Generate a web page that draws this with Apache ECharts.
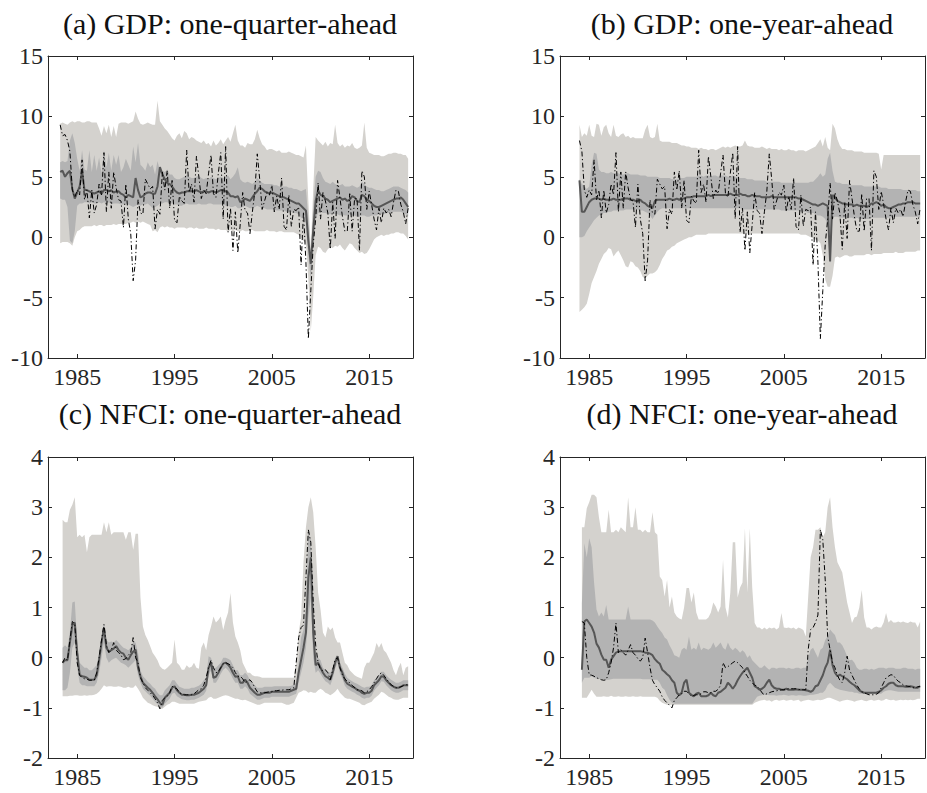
<!DOCTYPE html>
<html><head><meta charset="utf-8">
<script src="https://cdn.jsdelivr.net/npm/echarts@6/dist/echarts.min.js"></script>
<style>html,body{margin:0;padding:0;background:#fff}#c{width:927px;height:793px}</style>
</head><body><div id="c"></div>
<script>
// ---------- tick labels ----------
const yearTicks = [1985, 1995, 2005, 2015];
const titles = ['(a) GDP: one-quarter-ahead', '(b) GDP: one-year-ahead', '(c) NFCI: one-quarter-ahead', '(d) NFCI: one-year-ahead'];

// ---------- GDP actual (quarterly, 1983Q2 .. 2019Q1) ----------
const gdpStart = 1983.25;
const gdpActual = [
 9.3, 8.4, 8.5,
 8.0, 7.1, 3.9, 3.3,
 3.9, 3.5, 6.4, 3.1,
 3.9, 1.6, 3.9, 2.0,
 2.7, 4.4, 3.5, 7.0,
 2.1, 5.4, 2.4, 5.4,
 4.1, 3.1, 3.0, 0.8,
 4.4, 1.5, 0.3, -3.6,
 -1.9, 3.1, 2.0, 1.9,
 4.8, 4.4, 4.0, 4.2,
 0.7, 2.3, 1.9, 5.4,
 3.9, 5.5, 2.4, 4.7,
 1.4, 1.2, 3.4, 3.0,
 2.8, 7.2, 3.7, 4.4,
 2.9, 6.7, 5.0, 3.2,
 3.9, 3.6, 5.3, 6.8,
 3.6, 3.3, 5.3, 7.0,
 1.5, 7.5, 0.4, 2.4,
 -1.1, 2.1, -1.3, 1.1,
 3.7, 2.2, 2.0, 0.3,
 2.1, 3.8, 6.9, 4.8,
 2.3, 3.0, 3.7, 3.5,
 4.3, 2.1, 3.4, 2.3,
 4.9, 0.9, 0.6, 3.5,
 0.9, 2.3, 2.2, 2.5,
 -2.3, 2.1, -2.1, -8.4,
 -4.4, -0.6, 1.5, 4.5,
 1.5, 3.7, 3.0, 2.0,
 -1.0, 2.9, -0.1, 4.7,
 3.2, 1.7, 0.5, 0.5,
 3.6, 0.5, 3.2, 3.2,
 -1.1, 5.5, 5.0, 2.3,
 3.8, 2.7, 1.5, 0.6,
 2.4, 1.2, 2.4, 2.0,
 2.3, 1.7, 2.9, 3.9,
 3.8, 2.7, 2.1, 1.1,
 2.4
];

// ---------- (a) GDP one-quarter-ahead, 1983Q2 .. 2019Q1 ----------
const aStart = 1983.25;
const aHi90 = [
 9.4, 9.5, 9.4,
 9.3, 9.5, 9.6, 9.5,
 9.6, 9.6, 9.5, 9.5,
 9.6, 9.6, 9.5, 9.5,
 9.5, 9.0, 8.4, 9.2,
 8.6, 9.3, 8.3, 9.2,
 8.3, 9.4, 9.5, 9.5,
 9.5, 9.4, 9.5, 9.6,
 10.4, 9.8, 9.4, 9.3,
 9.4, 9.5, 9.4, 9.3,
 9.3, 11.3, 9.6, 9.3,
 9.0, 8.8, 8.5, 8.2,
 8.0, 8.4, 8.6, 8.2,
 8.8, 8.6, 8.1, 8.3,
 8.2, 8.0, 7.9, 7.8,
 8.0, 7.7, 7.8, 7.5,
 8.0, 7.6, 7.8, 8.1,
 7.7, 8.0, 8.3, 7.9,
 8.6, 9.3, 8.0, 7.6,
 7.6, 7.4, 7.8, 7.7,
 7.7, 8.1, 8.9, 8.2,
 7.7, 7.5, 7.2, 7.3,
 7.3, 7.2, 7.1, 7.2,
 7.0, 7.0, 7.0, 7.1,
 7.0, 6.9, 6.8, 6.8,
 6.7, 6.6, 7.6, 3.0,
 -1.0, 4.0, 8.3, 8.0,
 7.8, 7.6, 7.9, 7.5,
 7.8, 7.7, 9.3, 7.8,
 7.5, 7.7, 7.4, 7.6,
 7.5, 7.8, 7.4, 7.3,
 7.4, 7.6, 9.5, 7.4,
 7.0, 6.9, 6.8, 6.8,
 6.8, 6.7, 6.7, 6.8,
 6.9, 6.9, 7.0, 7.0,
 6.9, 6.9, 6.8, 6.8,
 6.5
];
const aHi68 = [
 6.2, 6.3, 6.2,
 6.3, 8.0, 8.6, 7.8,
 6.5, 5.5, 7.2, 5.6,
 5.5, 7.2, 5.4, 6.8,
 5.5, 6.6, 5.3, 7.2,
 5.8, 7.0, 5.5, 6.8,
 6.0, 6.8, 5.4, 5.8,
 6.5, 6.0, 5.5, 7.5,
 6.2, 7.8, 6.0, 5.8,
 5.5, 6.2, 5.8, 6.0,
 5.2, 6.3, 5.5, 5.5,
 5.4, 5.6, 5.2, 5.2,
 4.9, 4.8, 4.8, 4.9,
 5.0, 5.2, 5.0, 4.9,
 4.9, 5.0, 5.1, 4.9,
 4.8, 4.9, 4.8, 5.0,
 4.9, 4.8, 4.9, 5.0,
 4.9, 5.0, 5.1, 4.8,
 5.0, 5.3, 5.8, 4.8,
 4.6, 4.5, 4.6, 4.5,
 4.4, 4.6, 4.9, 4.7,
 4.5, 4.4, 4.4, 4.4,
 4.4, 4.3, 4.3, 4.2,
 4.2, 4.2, 4.2, 4.1,
 4.1, 4.0, 4.0, 3.9,
 3.8, 3.9, 4.0, 1.5,
 -1.5, 2.5, 5.0, 5.5,
 5.4, 4.9, 4.6, 4.5,
 4.4, 4.6, 4.4, 4.3,
 4.3, 4.4, 4.2, 4.2,
 4.2, 4.3, 4.2, 4.1,
 4.2, 4.6, 4.4, 4.2,
 4.1, 4.1, 4.0, 3.9,
 3.9, 3.8, 3.8, 3.9,
 4.0, 4.1, 4.2, 4.2,
 4.2, 4.1, 4.0, 3.9,
 3.7
];
const aMed = [
 5.4, 5.5, 5.0,
 5.3, 5.5, 4.0, 3.2,
 3.7, 4.2, 5.5, 3.9,
 3.9, 3.8, 3.7, 3.6,
 3.7, 3.8, 3.6, 3.9,
 3.9, 3.8, 3.9, 3.7,
 3.8, 3.8, 3.6, 3.5,
 3.3, 3.5, 3.4, 3.3,
 4.9, 3.9, 3.3, 3.4,
 3.6, 3.7, 3.7, 3.6,
 3.6, 4.2, 5.8, 5.2,
 4.8, 4.5, 4.4, 4.2,
 3.9, 3.7, 3.6, 3.7,
 3.7, 3.8, 3.8, 3.8,
 3.8, 3.9, 3.8, 3.7,
 3.8, 3.8, 3.7, 3.8,
 3.8, 3.7, 3.8, 3.9,
 3.9, 3.8, 3.7, 3.4,
 3.4, 3.3, 3.4, 2.9,
 3.0, 3.2, 3.1, 3.0,
 3.3, 3.6, 3.8, 4.1,
 4.0, 3.8, 3.7, 3.6,
 3.7, 3.6, 3.5, 3.4,
 3.3, 3.3, 3.2, 3.1,
 3.0, 2.9, 2.8, 2.8,
 2.6, 2.4, 2.2, -0.3,
 -2.2, 0.6, 3.0, 3.9,
 3.5, 3.4, 3.2, 3.1,
 2.9, 3.0, 3.1, 3.2,
 3.3, 3.1, 3.2, 3.0,
 3.1, 3.4, 3.3, 3.0,
 2.9, 3.5, 3.4, 3.1,
 3.0, 2.8, 2.6, 2.5,
 2.5, 2.6, 2.7, 2.8,
 2.9, 3.0, 3.1, 3.2,
 3.2, 3.3, 3.1, 2.8,
 2.5
];
const aLo68 = [
 3.2, 3.1, 3.1,
 2.5, -0.3, -0.5, 0.5,
 2.6, 2.8, 2.8, 2.9,
 2.9, 2.8, 2.9, 2.8,
 2.8, 2.9, 2.8, 2.9,
 2.8, 2.9, 2.7, 2.8,
 2.8, 2.8, 2.7, 2.7,
 2.8, 2.7, 2.6, 2.5,
 2.6, 2.7, 2.6, 2.7,
 2.7, 2.8, 2.6, 2.4,
 2.5, 2.6, 2.8, 2.8,
 2.9, 2.9, 2.8, 2.8,
 2.7, 2.7, 2.6, 2.6,
 2.7, 2.8, 2.7, 2.7,
 2.7, 2.7, 2.8, 2.7,
 2.7, 2.7, 2.8, 2.8,
 2.7, 2.7, 2.7, 2.7,
 2.7, 2.6, 2.6, 2.5,
 2.5, 2.6, 2.4, 2.4,
 2.5, 2.6, 2.5, 2.4,
 2.4, 2.5, 2.6, 2.5,
 2.4, 2.4, 2.3, 2.3,
 2.3, 2.3, 2.2, 2.2,
 2.2, 2.2, 2.1, 2.1,
 2.1, 2.0, 2.0, 1.9,
 1.6, 1.5, 1.2, -1.5,
 -3.5, -1.0, 1.5, 2.0,
 2.1, 2.0, 2.0, 1.9,
 1.9, 2.0, 1.9, 1.9,
 1.8, 1.9, 1.8, 1.8,
 1.9, 1.8, 1.8, 1.7,
 1.7, 1.8, 1.8, 1.7,
 1.7, 1.8, 1.8, 1.8,
 1.9, 1.9, 1.9, 2.0,
 2.0, 2.0, 2.1, 2.1,
 2.1, 2.1, 2.0, 1.9,
 1.8
];
const aLo90 = [
 -0.5, -0.4, -0.4,
 -0.4, -0.5, -0.7, 0.0,
 0.5, 0.6, 0.8, 0.9,
 0.9, 0.9, 0.9, 1.0,
 0.9, 1.0, 1.0, 0.9,
 1.0, 1.0, 1.0, 1.1,
 1.0, 1.1, 1.1, 1.1,
 1.1, 1.2, 1.2, 1.3,
 1.2, 1.3, 1.2, 1.3,
 1.2, 1.1, 1.0, 0.5,
 0.6, 0.4, 0.8, 0.9,
 0.8, 0.9, 0.8, 0.8,
 0.7, 0.8, 0.8, 0.8,
 0.8, 0.7, 0.8, 0.8,
 0.7, 0.8, 0.7, 0.7,
 0.7, 0.8, 0.7, 0.7,
 0.7, 0.6, 0.7, 0.6,
 0.6, 0.6, 0.5, 0.6,
 0.5, 0.6, 0.5, 0.5,
 0.6, 0.5, 0.5, 0.6,
 0.6, 0.5, 0.5, 0.5,
 0.5, 0.5, 0.6, 0.5,
 0.5, 0.5, 0.4, 0.5,
 0.5, 0.4, 0.4, 0.4,
 0.4, 0.4, 0.3, 0.2,
 0.0, -0.3, -0.5, -3.5,
 -7.8, -4.9, -1.5, -0.8,
 -0.9, -1.2, -1.3, -1.0,
 -0.8, -0.9, -0.7, -0.8,
 -0.6, -0.9, -1.1, -0.8,
 -0.5, -0.6, -0.9, -1.1,
 -1.3, -1.2, -1.4, -1.3,
 -1.0, -0.6, -0.2, 0.0,
 0.1, 0.2, 0.1, 0.2,
 0.2, 0.3, 0.3, 0.4,
 0.4, 0.3, 0.3, 0.1,
 -0.2
];

// ---------- (b) GDP one-year-ahead, 1984Q1 .. 2019Q1 ----------
const bStart = 1984.0;
const bHi90 = [
 9.3, 8.3, 8.6, 8.4,
 9.3, 8.4, 8.3, 9.4,
 9.3, 8.4, 9.1, 9.3,
 8.6, 8.3, 9.3, 8.4,
 8.3, 8.5, 8.6, 8.3,
 8.4, 8.2, 8.3, 8.2,
 8.2, 8.2, 8.2, 8.9,
 9.3, 8.3, 8.2, 8.3,
 9.4, 8.0, 7.9, 7.9,
 7.9, 7.9, 7.8, 7.8,
 7.8, 7.7, 7.6, 7.6,
 7.5, 7.5, 7.4, 7.4,
 7.4, 7.3, 7.4, 7.3,
 7.3, 7.2, 7.3, 7.3,
 7.2, 7.3, 7.4, 7.5,
 7.4, 7.5, 7.4, 7.5,
 7.6, 7.5, 7.5, 7.6,
 8.0, 7.6, 7.5, 7.5,
 7.4, 7.4, 7.4, 7.5,
 7.4, 7.3, 7.4, 7.3,
 7.3, 7.3, 7.2, 7.3,
 7.2, 7.2, 7.3, 7.2,
 7.2, 7.1, 7.2, 7.2,
 7.2, 7.1, 7.2, 7.3,
 7.4, 7.5, 7.8, 8.1,
 7.5, 8.3, 7.4, 7.2,
 9.4, 9.0, 8.1, 7.6,
 7.3, 7.3, 7.2, 7.2,
 7.2, 7.1, 7.1, 7.1,
 7.1, 7.0, 7.0, 7.0,
 7.0, 7.0, 7.0, 6.9,
 5.6, 6.8, 6.8, 6.8,
 6.8, 6.8, 6.8, 6.8,
 6.8, 6.8, 6.8, 6.8,
 6.8, 6.8, 6.8, 6.8,
 6.8
];
const bHi68 = [
 4.8, 4.4, 4.2, 4.0,
 4.2, 6.0, 7.0, 6.9,
 5.6, 5.4, 5.4, 5.3,
 5.3, 5.4, 5.3, 5.3,
 5.3, 5.2, 5.2, 5.3,
 5.3, 5.2, 5.2, 5.2,
 5.2, 5.1, 5.1, 5.1,
 5.0, 5.0, 5.0, 5.0,
 5.0, 4.9, 4.9, 4.9,
 4.9, 4.9, 4.8, 4.8,
 4.8, 4.9, 4.9, 4.9,
 5.0, 5.0, 5.0, 5.0,
 5.0, 5.1, 5.1, 5.0,
 5.1, 5.1, 5.0, 5.1,
 5.1, 5.0, 5.1, 5.1,
 5.1, 5.0, 5.0, 5.1,
 5.0, 5.0, 4.9, 4.9,
 4.9, 4.8, 4.8, 4.8,
 4.7, 4.7, 4.7, 4.7,
 4.7, 4.6, 4.6, 4.6,
 4.6, 4.6, 4.6, 4.5,
 4.5, 4.5, 4.5, 4.5,
 4.5, 4.5, 4.5, 4.5,
 4.5, 4.5, 4.5, 4.6,
 4.6, 4.8, 5.0, 5.3,
 5.0, 5.2, 6.5, 7.0,
 5.5, 4.6, 4.5, 4.5,
 4.4, 4.4, 4.4, 4.3,
 4.3, 4.3, 4.3, 4.3,
 4.3, 4.2, 4.2, 4.2,
 4.2, 4.2, 4.2, 4.2,
 4.1, 4.1, 4.1, 4.0,
 4.0, 4.0, 4.0, 4.0,
 4.0, 3.9, 3.9, 3.9,
 3.9, 3.9, 3.9, 3.8,
 3.8
];
const bMed = [
 4.7, 2.1, 2.1, 2.5,
 2.9, 3.1, 3.2, 3.2,
 3.2, 3.1, 3.2, 3.1,
 3.1, 3.1, 3.2, 3.1,
 3.1, 3.1, 3.2, 3.2,
 3.2, 3.1, 3.1, 3.0,
 3.0, 3.1, 2.9, 2.8,
 2.6, 2.5, 2.4, 3.0,
 3.1, 3.1, 3.1, 3.1,
 3.1, 3.2, 3.1, 3.1,
 3.2, 3.1, 3.2, 3.2,
 3.3, 3.3, 3.3, 3.4,
 3.4, 3.4, 3.4, 3.4,
 3.4, 3.5, 3.4, 3.5,
 3.5, 3.5, 3.5, 3.5,
 3.5, 3.5, 3.6, 3.5,
 3.5, 3.5, 3.6, 3.5,
 3.5, 3.4, 3.4, 3.5,
 3.4, 3.4, 3.4, 3.3,
 3.3, 3.3, 3.3, 3.4,
 3.3, 3.3, 3.3, 3.3,
 3.3, 3.3, 3.3, 3.3,
 3.3, 3.3, 3.2, 3.2,
 3.1, 3.0, 2.9, 2.8,
 2.7, 2.7, 2.6, 2.7,
 2.8, 2.7, 2.6, -2.0,
 3.5, 3.3, 3.0, 2.9,
 2.8, 2.8, 2.7, 2.7,
 2.7, 2.6, 2.7, 2.6,
 2.6, 2.6, 2.5, 2.6,
 2.8, 2.8, 2.9, 2.8,
 2.6, 2.7, 2.5, 2.4,
 2.4, 2.5, 2.6, 2.7,
 2.7, 2.8, 2.8, 2.9,
 2.9, 2.9, 2.8, 2.8,
 2.8
];
const bLo68 = [
 0.0, 0.0, 0.1, 0.5,
 0.8, 1.1, 1.4, 1.6,
 1.8, 1.9, 2.0, 2.0,
 2.1, 2.1, 2.2, 2.2,
 2.2, 2.2, 2.2, 2.3,
 2.3, 2.3, 2.3, 2.3,
 2.3, 2.2, 2.2, 2.1,
 2.0, 1.8, 1.5, 1.8,
 2.1, 2.3, 2.4, 2.4,
 2.4, 2.4, 2.4, 2.4,
 2.4, 2.4, 2.4, 2.4,
 2.4, 2.4, 2.4, 2.4,
 2.4, 2.4, 2.4, 2.4,
 2.4, 2.4, 2.4, 2.4,
 2.4, 2.4, 2.4, 2.4,
 2.4, 2.4, 2.4, 2.4,
 2.4, 2.4, 2.4, 2.3,
 2.3, 2.3, 2.3, 2.3,
 2.3, 2.3, 2.3, 2.3,
 2.3, 2.3, 2.3, 2.3,
 2.3, 2.3, 2.3, 2.2,
 2.2, 2.2, 2.2, 2.2,
 2.2, 2.2, 2.2, 2.1,
 2.1, 2.1, 2.0, 2.0,
 2.0, 1.9, 1.8, 1.8,
 1.7, 1.5, 1.0, -2.2,
 1.6, 1.7, 1.7, 1.6,
 1.6, 1.6, 1.6, 1.6,
 1.6, 1.5, 1.6, 1.5,
 1.5, 1.5, 1.5, 1.5,
 1.6, 1.6, 1.6, 1.6,
 1.6, 1.6, 1.6, 1.6,
 1.6, 1.7, 1.7, 1.7,
 1.7, 1.7, 1.7, 1.7,
 1.7, 1.7, 1.7, 1.7,
 1.7
];
const bLo90 = [
 -6.2, -6.0, -5.8, -5.5,
 -4.7, -3.8, -3.3, -2.8,
 -2.2, -1.8, -1.4, -1.2,
 -0.9, -1.0, -1.6, -1.3,
 -1.1, -1.5, -1.9, -2.4,
 -2.5, -2.0, -2.1, -2.4,
 -2.5, -2.8, -3.3, -3.4,
 -3.2, -3.0, -3.0, -2.9,
 -2.7, -2.3, -1.8, -1.5,
 -1.1, -1.0, -0.8, -0.7,
 -0.5, -0.4, -0.3, -0.2,
 -0.1, 0.0, 0.0, 0.1,
 0.2, 0.2, 0.2, 0.2,
 0.2, 0.3, 0.3, 0.3,
 0.3, 0.3, 0.3, 0.3,
 0.3, 0.3, 0.3, 0.3,
 0.3, 0.3, 0.3, 0.3,
 0.3, 0.3, 0.2, 0.3,
 0.3, 0.3, 0.3, 0.3,
 0.3, 0.3, 0.3, 0.3,
 0.3, 0.3, 0.3, 0.3,
 0.3, 0.3, 0.3, 0.3,
 0.3, 0.3, 0.3, 0.2,
 0.2, 0.2, 0.1, 0.0,
 -0.1, -0.2, -0.3, -0.5,
 -1.5, -3.5, -4.1, -4.1,
 -3.2, -1.7, -1.6, -1.7,
 -1.6, -1.5, -1.5, -1.6,
 -1.6, -1.5, -1.5, -1.5,
 -1.5, -1.5, -1.4, -1.4,
 -1.5, -1.4, -1.4, -1.4,
 -1.4, -1.3, -1.3, -1.3,
 -1.3, -1.3, -1.2, -1.3,
 -1.3, -1.3, -1.2, -1.2,
 -1.2, -1.2, -1.2, -1.1,
 -1.1
];

// ---------- (c) NFCI one-quarter-ahead, 1983Q3 .. 2019Q1 ----------
const cStart = 1983.5;
const cAct = [
 -0.1, 0.0,
 -0.05, 0.35, 0.72, 0.68,
 -0.1, -0.35, -0.4, -0.42,
 -0.43, -0.45, -0.45, -0.45,
 -0.3, 0.0, 0.35, 0.66,
 0.25, 0.1, 0.15, 0.3,
 0.15, 0.1, 0.05, -0.04,
 -0.02, 0.05, 0.1, 0.4,
 0.0, -0.1, -0.4, -0.5,
 -0.6, -0.65, -0.7, -0.75,
 -0.82, -0.9, -1.02, -0.85,
 -0.8, -0.77, -0.7, -0.57,
 -0.6, -0.62, -0.7, -0.72,
 -0.74, -0.74, -0.74, -0.74,
 -0.72, -0.68, -0.64, -0.62,
 -0.55, -0.4, -0.2, -0.05,
 -0.2, -0.3, -0.28, -0.2,
 -0.12, -0.1, -0.12, -0.15,
 -0.2, -0.3, -0.37, -0.37,
 -0.42, -0.5, -0.47, -0.44,
 -0.5, -0.6, -0.68, -0.7,
 -0.7, -0.7, -0.69, -0.68,
 -0.68, -0.66, -0.66, -0.65,
 -0.65, -0.64, -0.64, -0.64,
 -0.62, -0.6, -0.1, 0.4,
 0.6, 0.65, 1.6, 2.55,
 2.3, 1.1, 0.25, -0.1,
 -0.24, -0.26, -0.24, -0.3,
 -0.44, -0.24, -0.04, 0.0,
 -0.2, -0.35, -0.42, -0.48,
 -0.5, -0.55, -0.6, -0.64,
 -0.64, -0.66, -0.7, -0.68,
 -0.64, -0.58, -0.5, -0.42,
 -0.34, -0.3, -0.35, -0.42,
 -0.48, -0.54, -0.57, -0.6,
 -0.6, -0.58, -0.56, -0.54,
 -0.54
];
const cHi90 = [
 2.75, 2.7,
 2.7, 2.95, 3.05, 3.2,
 2.4, 2.45, 2.4, 2.45,
 2.1, 2.4, 2.45, 2.45,
 2.45, 2.45, 2.45, 2.7,
 2.5, 2.7, 2.45, 2.5,
 2.5, 2.5, 2.5, 2.5,
 2.35, 2.5, 2.5, 2.15,
 2.47, 2.47, 1.2, 0.62,
 0.45, 0.35, 0.23, 0.1,
 0.03, -0.05, -0.17, -0.22,
 -0.24, -0.2, -0.15, -0.1,
 0.36, -0.1, -0.15, -0.24,
 -0.24, -0.15, -0.2, -0.18,
 -0.1, -0.2, -0.22, 0.2,
 0.3, 0.15, 0.45, 0.62,
 0.82, 0.7, 0.75, 0.82,
 0.55, 0.75, 0.9, 1.29,
 0.7, 0.42, 0.3, 0.15,
 -0.1, -0.2, -0.3, -0.3,
 -0.35, -0.37, -0.37, -0.38,
 -0.4, -0.4, -0.4, -0.4,
 -0.4, -0.4, -0.4, -0.4,
 -0.4, -0.4, -0.4, -0.4,
 -0.4, -0.4, -0.1, 0.5,
 0.8, 1.9, 2.6, 3.0,
 3.2, 2.9, 2.2, 1.3,
 0.96, 0.5, 0.4, 0.62,
 0.55, 0.6, 0.4, 0.3,
 0.3, 0.1, -0.1, -0.15,
 -0.25, -0.3, -0.35, -0.38,
 -0.4, -0.42, -0.2, -0.1,
 -0.1, 0.0, 0.1, 0.29,
 0.2, 0.29, 0.15, 0.1,
 0.0, -0.1, -0.25, -0.35,
 -0.2, -0.1, -0.35, -0.2,
 -0.17
];
const cHi68 = [
 0.2, 0.25,
 0.2, 0.5, 1.1, 1.12,
 0.3, -0.1, -0.15, -0.2,
 -0.2, -0.25, -0.25, -0.2,
 -0.15, 0.1, 0.4, 0.69,
 0.35, 0.3, 0.32, 0.3,
 0.35, 0.3, 0.25, 0.2,
 0.18, 0.15, 0.2, 0.3,
 0.3, 0.1, -0.25, -0.37,
 -0.42, -0.48, -0.52, -0.58,
 -0.62, -0.7, -0.75, -0.75,
 -0.65, -0.6, -0.55, -0.45,
 -0.45, -0.52, -0.58, -0.6,
 -0.62, -0.62, -0.62, -0.6,
 -0.6, -0.58, -0.56, -0.52,
 -0.45, -0.4, 0.03, 0.0,
 -0.2, -0.2, -0.15, -0.1,
 0.0, 0.0, -0.02, -0.05,
 -0.15, -0.25, -0.25, -0.35,
 -0.35, -0.3, -0.35, -0.45,
 -0.5, -0.55, -0.6, -0.6,
 -0.6, -0.58, -0.58, -0.58,
 -0.58, -0.57, -0.57, -0.57,
 -0.57, -0.57, -0.57, -0.57,
 -0.56, -0.54, -0.5, -0.1,
 0.4, 0.55, 1.0, 2.5,
 2.35, 1.3, 0.1, 0.0,
 -0.05, -0.2, -0.25, -0.28,
 -0.3, -0.2, 0.0, 0.03,
 -0.1, -0.2, -0.32, -0.4,
 -0.44, -0.47, -0.5, -0.52,
 -0.55, -0.58, -0.6, -0.58,
 -0.58, -0.55, -0.45, -0.4,
 -0.35, -0.28, -0.28, -0.35,
 -0.4, -0.44, -0.47, -0.5,
 -0.5, -0.48, -0.45, -0.45,
 -0.45
];
const cMed = [
 -0.1, -0.05,
 -0.05, 0.3, 0.65, 0.7,
 0.1, -0.34, -0.37, -0.38,
 -0.4, -0.44, -0.44, -0.44,
 -0.35, -0.05, 0.3, 0.6,
 0.2, 0.12, 0.15, 0.18,
 0.23, 0.15, 0.1, 0.08,
 0.0, -0.04, 0.05, 0.12,
 0.16, -0.2, -0.37, -0.5,
 -0.55, -0.6, -0.64, -0.7,
 -0.77, -0.83, -0.9, -0.94,
 -0.8, -0.75, -0.7, -0.6,
 -0.57, -0.65, -0.7, -0.74,
 -0.74, -0.75, -0.75, -0.74,
 -0.74, -0.72, -0.7, -0.66,
 -0.62, -0.55, -0.2, -0.1,
 -0.4, -0.38, -0.3, -0.2,
 -0.12, -0.1, -0.14, -0.2,
 -0.3, -0.38, -0.37, -0.5,
 -0.5, -0.44, -0.5, -0.6,
 -0.65, -0.7, -0.74, -0.74,
 -0.72, -0.7, -0.7, -0.7,
 -0.68, -0.68, -0.68, -0.68,
 -0.68, -0.68, -0.68, -0.68,
 -0.66, -0.64, -0.62, -0.3,
 -0.05, 0.2, 0.5, 1.6,
 2.0, 0.5, -0.15, -0.1,
 -0.2, -0.3, -0.37, -0.4,
 -0.44, -0.3, -0.1, 0.03,
 -0.2, -0.3, -0.45, -0.52,
 -0.55, -0.58, -0.6, -0.64,
 -0.66, -0.7, -0.72, -0.7,
 -0.7, -0.66, -0.55, -0.5,
 -0.45, -0.37, -0.38, -0.45,
 -0.5, -0.55, -0.58, -0.6,
 -0.6, -0.58, -0.55, -0.55,
 -0.55
];
const cLo68 = [
 -0.65, -0.65,
 -0.6, -0.3, 0.2, 0.3,
 -0.2, -0.5, -0.55, -0.55,
 -0.57, -0.57, -0.57, -0.57,
 -0.5, -0.3, 0.0, 0.3,
 0.0, -0.1, -0.05, -0.02,
 0.0, -0.05, -0.1, -0.12,
 -0.15, -0.2, -0.15, -0.1,
 -0.05, -0.35, -0.5, -0.62,
 -0.67, -0.72, -0.76, -0.82,
 -0.88, -0.93, -0.98, -1.0,
 -0.92, -0.87, -0.82, -0.72,
 -0.7, -0.77, -0.8, -0.83,
 -0.84, -0.85, -0.85, -0.84,
 -0.84, -0.82, -0.8, -0.77,
 -0.74, -0.66, -0.35, -0.25,
 -0.5, -0.5, -0.42, -0.32,
 -0.24, -0.2, -0.25, -0.32,
 -0.42, -0.5, -0.5, -0.62,
 -0.62, -0.57, -0.62, -0.72,
 -0.76, -0.8, -0.84, -0.84,
 -0.82, -0.8, -0.8, -0.8,
 -0.78, -0.78, -0.78, -0.78,
 -0.78, -0.78, -0.78, -0.78,
 -0.76, -0.74, -0.72, -0.5,
 -0.3, -0.1, 0.2, 0.8,
 1.2, 0.0, -0.3, -0.25,
 -0.32, -0.4, -0.47, -0.5,
 -0.55, -0.42, -0.22, -0.1,
 -0.32, -0.42, -0.56, -0.62,
 -0.65, -0.68, -0.7, -0.74,
 -0.76, -0.8, -0.82, -0.8,
 -0.8, -0.76, -0.66, -0.6,
 -0.55, -0.47, -0.48, -0.55,
 -0.6, -0.65, -0.68, -0.7,
 -0.7, -0.68, -0.65, -0.65,
 -0.65
];
const cLo90 = [
 -0.77, -0.77,
 -0.77, -0.76, -0.76, -0.75,
 -0.75, -0.76, -0.76, -0.75,
 -0.76, -0.75, -0.75, -0.74,
 -0.72, -0.68, -0.62, -0.55,
 -0.58, -0.57, -0.57, -0.58,
 -0.58, -0.57, -0.58, -0.6,
 -0.6, -0.58, -0.6, -0.6,
 -0.55, -0.62, -0.7, -0.8,
 -0.85, -0.9, -0.92, -0.95,
 -0.97, -0.98, -1.02, -1.02,
 -0.98, -0.94, -0.92, -0.88,
 -0.88, -0.9, -0.92, -0.92,
 -0.92, -0.92, -0.92, -0.92,
 -0.92, -0.9, -0.88, -0.87,
 -0.86, -0.85, -0.8, -0.78,
 -0.82, -0.82, -0.8, -0.78,
 -0.76, -0.75, -0.76, -0.78,
 -0.8, -0.82, -0.82, -0.84,
 -0.85, -0.84, -0.86, -0.88,
 -0.9, -0.92, -0.94, -0.94,
 -0.92, -0.9, -0.9, -0.9,
 -0.9, -0.9, -0.9, -0.9,
 -0.9, -0.92, -0.94, -0.94,
 -0.92, -0.9, -0.8, -0.7,
 -0.68, -0.65, -0.66, -0.7,
 -0.68, -0.7, -0.7, -0.65,
 -0.62, -0.65, -0.7, -0.72,
 -0.75, -0.72, -0.68, -0.62,
 -0.7, -0.75, -0.8, -0.82,
 -0.82, -0.84, -0.86, -0.88,
 -0.9, -0.94, -0.95, -0.92,
 -0.9, -0.88, -0.82, -0.78,
 -0.74, -0.68, -0.7, -0.74,
 -0.78, -0.8, -0.83, -0.84,
 -0.84, -0.82, -0.8, -0.8,
 -0.8
];

// ---------- (d) NFCI one-year-ahead, 1984Q2 .. 2019Q1 ----------
const dStart = 1984.25;
const dAct = [
 0.72, 0.69, 0.0,
 -0.34, -0.35, -0.37, -0.4,
 -0.42, -0.44, -0.45, -0.44,
 -0.3, -0.1, 0.2, 0.69,
 0.1, 0.16, 0.1, 0.05,
 0.15, 0.26, 0.1, 0.05,
 -0.02, -0.07, 0.0, 0.39,
 0.1, -0.2, -0.45, -0.54,
 -0.6, -0.67, -0.78, -0.85,
 -0.9, -0.95, -1.0, -0.85,
 -0.8, -0.74, -0.72, -0.67,
 -0.67, -0.72, -0.77, -0.75,
 -0.74, -0.74, -0.72, -0.68,
 -0.68, -0.7, -0.7, -0.67,
 -0.67, -0.63, -0.55, -0.1,
 -0.2, -0.18, -0.14, -0.1,
 -0.07, -0.1, -0.15, -0.2,
 -0.3, -0.37, -0.45, -0.5,
 -0.55, -0.57, -0.62, -0.7,
 -0.74, -0.72, -0.7, -0.68,
 -0.67, -0.66, -0.65, -0.64,
 -0.64, -0.63, -0.62, -0.62,
 -0.62, -0.62, -0.63, -0.64,
 -0.64, -0.64, 0.16, 0.56,
 0.6, 0.7, 0.85, 2.55,
 2.35, 1.55, 0.42, 0.16,
 -0.1, -0.2, -0.35, -0.45,
 -0.5, -0.3, 0.03, -0.25,
 -0.35, -0.45, -0.55, -0.62,
 -0.68, -0.7, -0.72, -0.74,
 -0.74, -0.74, -0.73, -0.7,
 -0.6, -0.5, -0.4, -0.37,
 -0.34, -0.35, -0.42, -0.47,
 -0.5, -0.54, -0.56, -0.57,
 -0.58, -0.6, -0.6, -0.58,
 -0.57
];
const dHi90 = [
 2.6, 2.6, 2.98,
 3.1, 3.25, 3.25, 3.2,
 2.8, 2.5, 2.5, 2.5,
 2.95, 2.5, 2.5, 2.55,
 2.5, 2.6, 2.55, 2.5,
 3.2, 2.6, 2.6, 3.0,
 2.55, 2.55, 2.5, 2.55,
 2.5, 2.5, 2.9, 2.5,
 2.45, 1.62, 1.55, 1.22,
 1.55, 1.0, 1.22, 0.9,
 0.82, 0.78, 0.76, 1.0,
 1.39, 1.39, 1.1, 1.3,
 0.9, 0.76, 0.76, 0.76,
 0.76, 0.8, 0.9, 1.1,
 1.02, 0.9, 1.02, 1.95,
 1.0, 0.8, 1.3, 2.3,
 2.3, 1.2, 1.4, 1.5,
 2.58, 1.3, 2.58, 1.4,
 0.69, 0.6, 0.6, 0.56,
 0.6, 0.56, 0.6, 0.58,
 0.6, 0.56, 0.6, 0.89,
 0.6, 0.59, 0.6, 0.58,
 0.6, 0.56, 0.6, 0.58,
 0.55, 0.42, 1.22, 2.0,
 2.2, 2.55, 2.55, 2.6,
 2.4, 2.5, 3.0, 3.2,
 2.6, 2.2, 1.9, 1.8,
 1.7, 1.4, 1.1, 0.9,
 0.69, 0.8, 0.82, 1.0,
 1.35, 0.8, 0.6, 0.6,
 0.56, 0.6, 0.62, 0.6,
 0.6, 0.7, 0.89, 0.7,
 0.75, 0.7, 0.7, 0.72,
 0.7, 0.72, 0.7, 0.69,
 0.72, 0.7, 0.7, 0.6,
 0.72
];
const dHi68 = [
 1.09, 2.28, 2.0,
 2.38, 2.2, 1.5, 0.96,
 0.82, 0.9, 0.82, 1.05,
 0.76, 0.76, 0.76, 0.76,
 0.76, 0.76, 0.76, 0.76,
 1.02, 0.76, 0.76, 0.76,
 0.76, 0.76, 0.76, 0.76,
 0.76, 0.76, 0.74, 0.7,
 0.62, 0.55, 0.49, 0.4,
 0.36, 0.25, 0.16, 0.05,
 0.03, 0.0, 0.16, 0.2,
 0.16, 0.42, 0.16, 0.2,
 0.16, 0.3, 0.15, 0.2,
 0.18, 0.16, 0.2, 0.3,
 0.2, 0.25, 0.3, 0.2,
 0.16, 0.3, 0.2, 0.15,
 0.2, 0.16, 0.1, 0.15,
 0.1, 0.0, 0.05, -0.05,
 -0.1, -0.15, -0.2, -0.2,
 -0.15, -0.2, -0.24, -0.2,
 -0.2, -0.22, -0.2, -0.2,
 -0.2, -0.22, -0.2, -0.22,
 -0.22, -0.2, -0.2, -0.22,
 -0.2, -0.2, 0.0, 0.16,
 0.2, 0.1, 0.0, 0.16,
 0.2, 0.35, 0.42, 0.56,
 0.5, 0.45, 0.3, 0.3,
 0.25, 0.15, 0.03, -0.05,
 -0.04, -0.1, -0.2, -0.24,
 -0.24, -0.22, -0.22, -0.24,
 -0.22, -0.24, -0.22, -0.2,
 -0.2, -0.2, -0.22, -0.2,
 -0.2, -0.2, -0.22, -0.22,
 -0.22, -0.2, -0.2, -0.22,
 -0.22, -0.22, -0.24, -0.22,
 -0.22
];
const dMed = [
 -0.24, 0.72, 0.76,
 0.69, 0.62, 0.5, 0.28,
 0.2, 0.06, -0.04, -0.04,
 -0.2, -0.04, 0.03, 0.1,
 0.12, 0.13, 0.13, 0.13,
 0.13, 0.13, 0.13, 0.13,
 0.13, 0.13, 0.12, 0.1,
 0.1, 0.08, 0.05, -0.03,
 -0.08, -0.12, -0.24, -0.28,
 -0.33, -0.37, -0.45, -0.5,
 -0.7, -0.75, -0.7, -0.5,
 -0.44, -0.7, -0.74, -0.77,
 -0.72, -0.7, -0.77, -0.77,
 -0.77, -0.75, -0.7, -0.75,
 -0.77, -0.7, -0.68, -0.64,
 -0.6, -0.5, -0.55, -0.62,
 -0.55, -0.45, -0.37, -0.3,
 -0.25, -0.2, -0.3, -0.4,
 -0.57, -0.6, -0.64, -0.62,
 -0.58, -0.5, -0.44, -0.55,
 -0.6, -0.62, -0.62, -0.64,
 -0.64, -0.62, -0.64, -0.64,
 -0.64, -0.63, -0.64, -0.64,
 -0.64, -0.65, -0.66, -0.68,
 -0.65, -0.57, -0.55, -0.45,
 -0.35, -0.2, -0.1, 0.16,
 -0.15, -0.3, -0.37, -0.34,
 -0.37, -0.4, -0.43, -0.48,
 -0.52, -0.55, -0.6, -0.65,
 -0.68, -0.7, -0.7, -0.7,
 -0.7, -0.7, -0.7, -0.68,
 -0.65, -0.6, -0.57, -0.52,
 -0.5, -0.5, -0.55, -0.57,
 -0.57, -0.57, -0.58, -0.58,
 -0.57, -0.58, -0.6, -0.6,
 -0.57
];
const dLo68 = [
 -0.5, -0.4, -0.4,
 -0.4, -0.37, -0.4, -0.42,
 -0.42, -0.43, -0.43, -0.44,
 -0.44, -0.43, -0.42, -0.42,
 -0.42, -0.42, -0.42, -0.42,
 -0.42, -0.42, -0.42, -0.42,
 -0.42, -0.42, -0.43, -0.43,
 -0.43, -0.43, -0.44, -0.44,
 -0.44, -0.5, -0.6, -0.64,
 -0.75, -0.84, -0.9, -0.92,
 -0.92, -0.92, -0.92, -0.92,
 -0.92, -0.92, -0.92, -0.92,
 -0.92, -0.92, -0.92, -0.92,
 -0.92, -0.92, -0.92, -0.92,
 -0.92, -0.92, -0.92, -0.92,
 -0.92, -0.92, -0.92, -0.92,
 -0.92, -0.92, -0.92, -0.92,
 -0.92, -0.92, -0.92, -0.92,
 -0.85, -0.78, -0.76, -0.75,
 -0.74, -0.74, -0.75, -0.75,
 -0.75, -0.76, -0.75, -0.75,
 -0.74, -0.75, -0.76, -0.75,
 -0.75, -0.76, -0.75, -0.75,
 -0.76, -0.76, -0.75, -0.74,
 -0.74, -0.73, -0.72, -0.7,
 -0.7, -0.65, -0.55, -0.5,
 -0.55, -0.6, -0.62, -0.64,
 -0.65, -0.66, -0.67, -0.68,
 -0.68, -0.7, -0.7, -0.72,
 -0.72, -0.72, -0.72, -0.72,
 -0.72, -0.72, -0.72, -0.72,
 -0.72, -0.68, -0.66, -0.65,
 -0.65, -0.66, -0.67, -0.68,
 -0.68, -0.68, -0.68, -0.68,
 -0.68, -0.68, -0.68, -0.68,
 -0.68
];
const dLo90 = [
 -0.8, -0.8, -0.8,
 -0.72, -0.64, -0.72, -0.78,
 -0.78, -0.78, -0.77, -0.78,
 -0.78, -0.76, -0.78, -0.78,
 -0.77, -0.78, -0.78, -0.77,
 -0.78, -0.78, -0.77, -0.78,
 -0.78, -0.77, -0.78, -0.78,
 -0.78, -0.78, -0.78, -0.78,
 -0.8, -0.86, -0.9, -0.92,
 -0.94, -0.94, -0.94, -0.94,
 -0.94, -0.94, -0.94, -0.94,
 -0.94, -0.94, -0.94, -0.94,
 -0.94, -0.94, -0.94, -0.94,
 -0.94, -0.94, -0.94, -0.94,
 -0.94, -0.94, -0.94, -0.94,
 -0.94, -0.94, -0.94, -0.94,
 -0.94, -0.94, -0.94, -0.94,
 -0.94, -0.94, -0.94, -0.94,
 -0.9, -0.88, -0.86, -0.85,
 -0.84, -0.86, -0.85, -0.88,
 -0.85, -0.84, -0.86, -0.85,
 -0.84, -0.86, -0.85, -0.84,
 -0.86, -0.85, -0.84, -0.88,
 -0.86, -0.85, -0.84, -0.85,
 -0.86, -0.85, -0.84, -0.85,
 -0.84, -0.82, -0.8, -0.8,
 -0.82, -0.84, -0.86, -0.88,
 -0.86, -0.85, -0.84, -0.85,
 -0.86, -0.88, -0.86, -0.85,
 -0.84, -0.86, -0.87, -0.85,
 -0.84, -0.86, -0.85, -0.84,
 -0.86, -0.85, -0.82, -0.84,
 -0.85, -0.84, -0.86, -0.85,
 -0.84, -0.85, -0.84, -0.85,
 -0.84, -0.85, -0.84, -0.82,
 -0.82
];

// ---------- styling ----------
const AX = '#262626';
const FONT = '"Liberation Serif", "Times New Roman", serif';
const LIGHT = '#d4d2ce';
const DARK = '#b3b3b3';
const MEDC = '#565656';

function quarters(start, n) { const o = []; for (let i = 0; i < n; i++) o.push(start + i * 0.25); return o; }

const panels = [
  { start: aStart, act: gdpActual, lo90: aLo90, lo68: aLo68, med: aMed, hi68: aHi68, hi90: aHi90, ymin: -10, ymax: 15, step: 5 },
  { start: bStart, act: gdpActual.slice(3), lo90: bLo90, lo68: bLo68, med: bMed, hi68: bHi68, hi90: bHi90, ymin: -10, ymax: 15, step: 5 },
  { start: cStart, act: cAct, lo90: cLo90, lo68: cLo68, med: cMed, hi68: cHi68, hi90: cHi90, ymin: -2, ymax: 4, step: 1 },
  { start: dStart, act: dAct, lo90: dLo90, lo68: dLo68, med: dMed, hi68: dHi68, hi90: dHi90, ymin: -2, ymax: 4, step: 1 }
];
const grids = [
  { left: 48, top: 56, width: 365, height: 302 },
  { left: 560, top: 56, width: 365, height: 302 },
  { left: 48, top: 457, width: 365, height: 301 },
  { left: 560, top: 457, width: 365, height: 301 }
];
const titleCenters = [[230, 8], [742, 8], [230, 398], [742, 398]];

function bandSeries(idx, xs, lo, hi, color, z) {
  const n = Math.min(xs.length, lo.length, hi.length);
  return {
    type: 'custom', xAxisIndex: idx, yAxisIndex: idx, z: z, silent: true, animation: false,
    data: [[xs[0], lo[0]]],
    renderItem: function (params, api) {
      const pts = [];
      for (let i = 0; i < n; i++) pts.push(api.coord([xs[i], hi[i]]));
      for (let j = n - 1; j >= 0; j--) pts.push(api.coord([xs[j], lo[j]]));
      return { type: 'polygon', shape: { points: pts }, style: { fill: color, stroke: null } };
    }
  };
}

const xAxis = [], yAxis = [], series = [], graphic = [];
const plainNum = function (v) { return String(v); };
panels.forEach(function (p, i) {
  xAxis.push({ gridIndex: i, type: 'value', min: 1982, max: 2019.5, position: 'bottom', splitLine: { show: false }, z: 10,
    axisLine: { show: true, onZero: false, lineStyle: { color: AX, width: 1 } },
    axisTick: { show: true, inside: true, length: 4, customValues: yearTicks, lineStyle: { color: AX } },
    axisLabel: { show: true, customValues: yearTicks, formatter: plainNum, color: AX, fontFamily: FONT, fontSize: 24, margin: 7 } });
  yAxis.push({ gridIndex: i, type: 'value', min: p.ymin, max: p.ymax, interval: p.step, position: 'left', splitLine: { show: false }, z: 10,
    axisLine: { show: true, onZero: false, lineStyle: { color: AX, width: 1 } },
    axisTick: { show: true, inside: true, length: 4, lineStyle: { color: AX } },
    axisLabel: { show: true, formatter: plainNum, color: AX, fontFamily: FONT, fontSize: 24, margin: 5 } });
});
panels.forEach(function (p, i) {
  xAxis.push({ gridIndex: i, type: 'value', min: 1982, max: 2019.5, position: 'top', splitLine: { show: false }, z: 10,
    axisLine: { show: true, onZero: false, lineStyle: { color: AX, width: 1 } },
    axisTick: { show: true, inside: true, length: 4, customValues: yearTicks, lineStyle: { color: AX } },
    axisLabel: { show: false } });
  yAxis.push({ gridIndex: i, type: 'value', min: p.ymin, max: p.ymax, interval: p.step, position: 'right', splitLine: { show: false }, z: 10,
    axisLine: { show: true, onZero: false, lineStyle: { color: AX, width: 1 } },
    axisTick: { show: true, inside: true, length: 4, lineStyle: { color: AX } },
    axisLabel: { show: false } });
});

panels.forEach(function (p, i) {
  const xs = quarters(p.start, p.med.length);
  const xa = quarters(p.start, p.act.length);
  series.push(bandSeries(i, xs, p.lo90, p.hi90, LIGHT, 1));
  series.push(bandSeries(i, xs, p.lo68, p.hi68, DARK, 2));
  series.push({ type: 'line', xAxisIndex: i, yAxisIndex: i, z: 4, animation: false, silent: true,
    symbol: 'none', showSymbol: false,
    lineStyle: { color: MEDC, width: 2 },
    data: xs.map(function (x, k) { return [x, p.med[k]]; }) });
  series.push({ type: 'line', xAxisIndex: i, yAxisIndex: i, z: 5, animation: false, silent: true,
    symbol: 'none', showSymbol: false,
    lineStyle: { color: '#000', width: 1, type: [5, 2.5, 1.2, 2.5] },
    data: xa.map(function (x, k) { return [x, p.act[k]]; }) });
  graphic.push({ type: 'text', x: titleCenters[i][0], y: titleCenters[i][1],
    style: { text: titles[i], font: '30px ' + FONT, fill: '#111', align: 'center', verticalAlign: 'top', textAlign: 'center', textVerticalAlign: 'top' } });
});

const chart = echarts.init(document.getElementById('c'), null, { renderer: 'svg' });
chart.setOption({
  animation: false,
  backgroundColor: '#ffffff',
  grid: grids,
  xAxis: xAxis,
  yAxis: yAxis,
  series: series,
  graphic: graphic
});
</script></body></html>
